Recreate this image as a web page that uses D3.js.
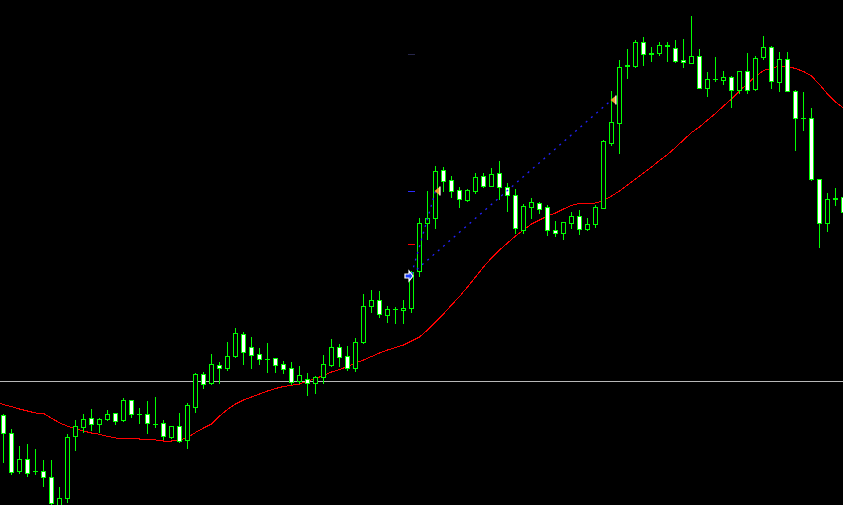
<!DOCTYPE html>
<html><head><meta charset="utf-8">
<script src="https://cdn.jsdelivr.net/npm/d3@7"></script>
<style>html,body{margin:0;padding:0;background:#000;overflow:hidden}svg{display:block}</style>
</head><body>
<svg id="chart" width="843" height="505"></svg>
<script>
const open = [1.2585,1.2567,1.2529,1.2541,1.2529,1.2529,1.2523,1.2492,1.2502,1.2564,
1.2573,1.2582,1.2576,1.2581,1.2587,1.2580,1.2600,1.2586,1.2586,1.2576,
1.2577,1.2563,1.2574,1.2560,1.2593,1.2626,1.2617,1.2635,1.2632,1.2644,
1.2666,1.2653,1.2646,1.2641,1.2642,1.2636,1.2632,1.2619,1.2621,1.2617,
1.2623,1.2635,1.2653,1.2644,1.2632,1.2658,1.2694,1.2700,1.2685,1.2691,
1.2690,1.2692,1.2729,1.2777,1.2782,1.2830,1.2820,1.2810,1.2800,1.2809,
1.2824,1.2814,1.2827,1.2813,1.2805,1.2770,1.2793,1.2797,1.2793,1.2770,
1.2767,1.2777,1.2784,1.2771,1.2776,1.2792,1.2857,1.2877,1.2934,1.2934,
1.2958,1.2946,1.2947,1.2954,1.2952,1.2940,1.2937,1.2944,1.2912,1.2921,
1.2920,1.2923,1.2910,1.2929,1.2911,1.2943,1.2953,1.2918,1.2941,1.2909,
1.2882,1.2882,1.2821,1.2777,1.2801,1.2803];
const high = [1.2586,1.2571,1.2554,1.2556,1.2551,1.2540,1.2540,1.2513,1.2566,1.2580,
1.2586,1.2591,1.2582,1.2590,1.2587,1.2602,1.2600,1.2592,1.2599,1.2603,
1.2580,1.2574,1.2587,1.2597,1.2627,1.2628,1.2646,1.2638,1.2658,1.2672,
1.2668,1.2663,1.2652,1.2657,1.2642,1.2639,1.2638,1.2634,1.2627,1.2624,
1.2645,1.2661,1.2656,1.2654,1.2662,1.2706,1.2710,1.2709,1.2694,1.2693,
1.2700,1.2729,1.2782,1.2809,1.2834,1.2833,1.2824,1.2813,1.2811,1.2827,
1.2827,1.2832,1.2839,1.2817,1.2811,1.2796,1.2802,1.2798,1.2795,1.2779,
1.2778,1.2788,1.2790,1.2782,1.2795,1.2860,1.2909,1.2940,1.2951,1.2960,
1.2963,1.2953,1.2958,1.2958,1.2960,1.2961,1.2984,1.2951,1.2928,1.2943,
1.2929,1.2924,1.2929,1.2947,1.2944,1.2964,1.2954,1.2948,1.2948,1.2910,
1.2908,1.2892,1.2821,1.2807,1.2812,1.2803];
const low = [1.2538,1.2526,1.2527,1.2524,1.2526,1.2514,1.2493,1.2490,1.2498,1.2550,
1.2568,1.2570,1.2568,1.2580,1.2576,1.2579,1.2583,1.2577,1.2567,1.2573,
1.2561,1.2562,1.2558,1.2552,1.2588,1.2612,1.2616,1.2617,1.2630,1.2643,
1.2636,1.2632,1.2636,1.2628,1.2628,1.2627,1.2616,1.2617,1.2605,1.2607,
1.2617,1.2634,1.2634,1.2630,1.2629,1.2657,1.2688,1.2683,1.2678,1.2677,
1.2677,1.2688,1.2724,1.2761,1.2772,1.2809,1.2803,1.2793,1.2799,1.2807,
1.2813,1.2814,1.2801,1.2789,1.2767,1.2767,1.2782,1.2787,1.2765,1.2764,
1.2761,1.2772,1.2766,1.2770,1.2773,1.2792,1.2855,1.2847,1.2922,1.2933,
1.2935,1.2939,1.2945,1.2939,1.2938,1.2933,1.2937,1.2912,1.2904,1.2919,
1.2916,1.2893,1.2907,1.2907,1.2910,1.2941,1.2912,1.2909,1.2909,1.2850,
1.2870,1.2820,1.2753,1.2769,1.2795,1.2788];
const close = [1.2567,1.2528,1.2541,1.2527,1.2529,1.2523,1.2497,1.2502,1.2563,1.2574,
1.2581,1.2576,1.2581,1.2586,1.2579,1.2600,1.2586,1.2586,1.2577,1.2576,
1.2564,1.2574,1.2559,1.2595,1.2626,1.2616,1.2636,1.2632,1.2644,1.2667,
1.2648,1.2645,1.2641,1.2641,1.2635,1.2631,1.2618,1.2625,1.2617,1.2623,
1.2636,1.2653,1.2643,1.2632,1.2658,1.2694,1.2700,1.2686,1.2691,1.2691,
1.2692,1.2728,1.2777,1.2782,1.2829,1.2819,1.2809,1.2801,1.2810,1.2823,
1.2814,1.2826,1.2813,1.2805,1.2772,1.2794,1.2798,1.2791,1.2770,1.2767,
1.2778,1.2784,1.2771,1.2776,1.2793,1.2859,1.2878,1.2933,1.2935,1.2958,
1.2946,1.2947,1.2955,1.2955,1.2939,1.2938,1.2944,1.2912,1.2921,1.2921,
1.2923,1.2910,1.2929,1.2910,1.2942,1.2953,1.2919,1.2941,1.2909,1.2882,
1.2882,1.2821,1.2777,1.2801,1.2802,1.2788];
const ma = [1.25955,1.25933,1.2591,1.2589,1.2587,1.25867,1.25817,1.25773,1.25737,1.25713,
1.2569,1.2567,1.25657,1.25637,1.2562,1.25617,1.25617,1.2561,1.2561,1.2560,
1.2559,1.2559,1.25597,1.25625,1.25675,1.2572,1.2576,1.2584,1.25905,1.2596,
1.2600,1.2603,1.2606,1.2609,1.26115,1.26135,1.26147,1.2616,1.2619,1.26215,
1.26245,1.2628,1.26305,1.26335,1.2637,1.2640,1.26435,1.2647,1.2650,1.26525,
1.2655,1.2659,1.2663,1.2670,1.2678,1.2686,1.2695,1.27035,1.2713,1.2723,
1.2733,1.2742,1.2750,1.2757,1.2764,1.2770,1.2776,1.2780,1.2784,1.2787,
1.2791,1.27945,1.27967,1.27967,1.2797,1.27995,1.2804,1.2809,1.2815,1.2821,
1.2827,1.2833,1.28395,1.28455,1.28525,1.2860,1.28675,1.2873,1.2880,1.28865,
1.2894,1.2901,1.2909,1.29165,1.29235,1.29295,1.29317,1.29342,1.29335,1.29315,
1.29285,1.2924,1.29155,1.2906,1.2898,1.2892];
const hLinePrice = 1.2619;
const tradeOpenIdx = [51, 51];
const tradeOpenPrice = [1.2726, 1.2726];
const tradeCloseIdx = [54, 76];
const tradeClosePrice = [1.2809, 1.2900];
const levelPrices = [1.2809, 1.2756, 1.2946];
const levelColors = ["#2a2aff", "#ff0000", "#26264a"];

const W = 843, H = 505;
const svg = d3.select("#chart");
svg.append("rect").attr("width", W).attr("height", H).attr("fill", "#000");
const x = d3.scaleLinear().domain([0, 105]).range([3.5, 843.5]);
const y = d3.scaleLinear().domain([1.3000, 1.2495]).range([0, H]);
const N = open.length;
const data = d3.range(N).map(i => ({i, o: open[i], h: high[i], l: low[i], c: close[i]}));

// horizontal line
svg.append("line").attr("x1", 0).attr("x2", W)
  .attr("y1", Math.round(y(hLinePrice)) + 0.5).attr("y2", Math.round(y(hLinePrice)) + 0.5)
  .attr("stroke", "#b8b8b8").attr("stroke-width", 1).attr("shape-rendering", "crispEdges");

// MA line (extended to the left edge along its first segment)
const slope0 = (y(ma[1]) - y(ma[0])) / (x(1) - x(0));
svg.append("path").datum(ma)
  .attr("d", "M0," + (y(ma[0]) - slope0 * x(0)) + "L" + d3.line().x((d, i) => x(i)).y(d => y(d))(ma).slice(1))
  .attr("fill", "none").attr("stroke", "#ff0000").attr("stroke-width", 1)
  .attr("shape-rendering", "crispEdges");

// candles
const g = svg.append("g").attr("shape-rendering", "crispEdges");
const green = "#00ff00";
data.forEach(d => {
  const cx = Math.floor(x(d.i)) + 0.5;
  const yh = Math.round(y(d.h)), yl = Math.round(y(d.l));
  g.append("line").attr("x1", cx).attr("x2", cx).attr("y1", yh).attr("y2", yl + 1)
    .attr("stroke", green).attr("stroke-width", 1);
  const top = Math.round(y(Math.max(d.o, d.c))), bot = Math.round(y(Math.min(d.o, d.c)));
  if (bot - top < 1) {
    g.append("line").attr("x1", cx - 2.5).attr("x2", cx + 2.5)
      .attr("y1", top + 0.5).attr("y2", top + 0.5).attr("stroke", green).attr("stroke-width", 1);
  } else {
    g.append("rect").attr("x", cx - 2).attr("width", 4)
      .attr("y", top + 0.5).attr("height", bot - top)
      .attr("fill", d.c > d.o ? "#000" : "#fff").attr("stroke", green).attr("stroke-width", 1);
  }
});

// level markers at trade open
const lx = x(tradeOpenIdx[0]);
levelPrices.forEach((p, k) => {
  svg.append("line").attr("x1", lx - 3.5).attr("x2", lx + 3.5)
    .attr("y1", Math.round(y(p)) + 0.5).attr("y2", Math.round(y(p)) + 0.5)
    .attr("stroke", levelColors[k]).attr("stroke-width", 1).attr("shape-rendering", "crispEdges");
});

// trade lines
tradeOpenIdx.forEach((oi, k) => {
  svg.append("line")
    .attr("x1", x(oi)).attr("y1", y(tradeOpenPrice[k]))
    .attr("x2", x(tradeCloseIdx[k])).attr("y2", y(tradeClosePrice[k]))
    .attr("stroke", "#2222ff").attr("stroke-width", 1.3).attr("stroke-dasharray", "2,5");
});

// open arrow (buy)
const ax = x(tradeOpenIdx[0]) + 1.5, ay = y(tradeOpenPrice[0]) + 2;
svg.append("path")
  .attr("d", `M${ax-8},${ay-2} L${ax-4},${ay-2} L${ax-4},${ay-5} L${ax},${ay} L${ax-4},${ay+5} L${ax-4},${ay+2} L${ax-8},${ay+2} Z`)
  .attr("fill", "#1a3cff").attr("stroke", "#fff").attr("stroke-width", 1.2);

// close markers
tradeCloseIdx.forEach((ci, k) => {
  const tx = x(ci) - 1, ty = y(tradeClosePrice[k]);
  svg.append("path").attr("d", `M${tx},${ty} L${tx+5.5},${ty-4.5} L${tx+5.5},${ty+4.5} Z`)
    .attr("fill", "#f0a030");
  svg.append("line").attr("x1", tx + 5.5).attr("x2", tx + 5.5).attr("y1", ty - 4.5).attr("y2", ty + 4.5)
    .attr("stroke", "#fff").attr("stroke-width", 1.2);
});
</script>
</body></html>
